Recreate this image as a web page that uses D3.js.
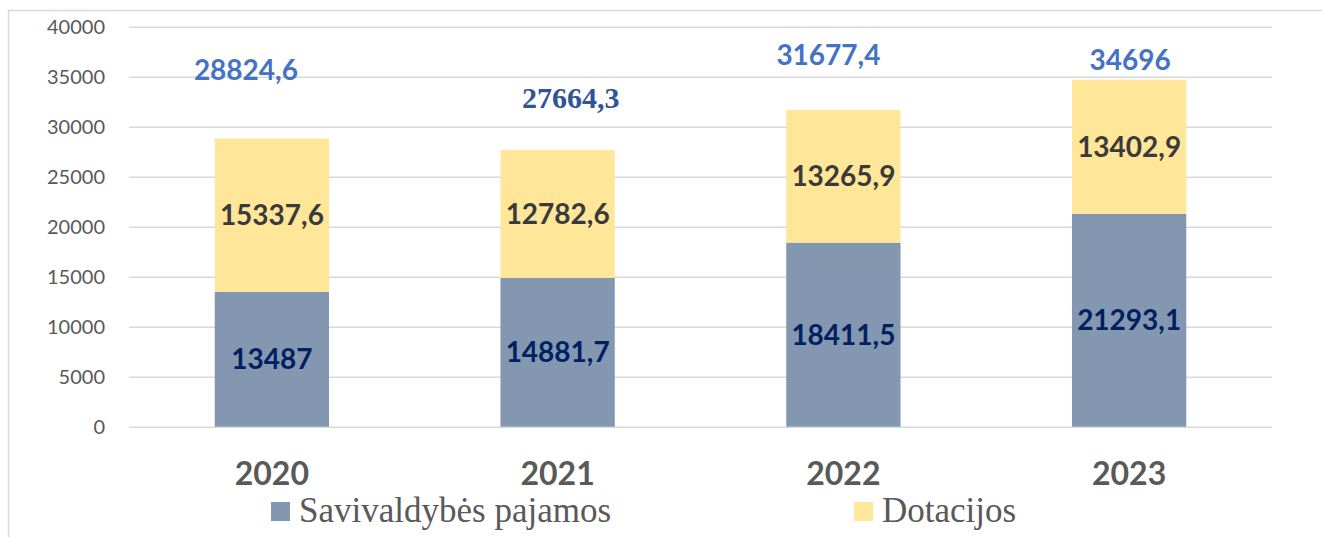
<!DOCTYPE html>
<html>
<head>
<meta charset="utf-8">
<script src="https://cdn.jsdelivr.net/npm/d3@7/dist/d3.min.js"></script>
<style>
body { margin:0; background:#fff; }
svg { display:block; }
.tick text { font-family: Lato, "Open Sans", sans-serif; }
.serif { font-family: "Liberation Serif", "DejaVu Serif", "Times New Roman", serif; }
</style>
</head>
<body>
<div id="chart"></div>
<script>
const years = ['2020', '2021', '2022', '2023'];
const savivaldybes = [13487, 14881.7, 18411.5, 21293.1];
const dotacijos = [15337.6, 12782.6, 13265.9, 13402.9];
const totals = [28824.6, 27664.3, 31677.4, 34696];
const yTicks = [0, 5000, 10000, 15000, 20000, 25000, 30000, 35000, 40000];
const seriesNames = ['Savivaldybės pajamos', 'Dotacijos'];

// hand placed total labels (as in the original), px offsets from bar top/center
const totalNudge = [{dx:-26, dy:-58}, {dx:13, dy:-42}, {dx:-15, dy:-45}, {dx:1, dy:-10}];

const width = 1322, height = 537;
const margin = {left:129, right:50, top:26.7, bottom:110.3};

const fmt = v => String(v).replace('.', ',');

const svg = d3.select('#chart').append('svg')
.attr('width', width)
.attr('height', height);

// outer frame (cut off at right / bottom like the source)
svg.append('rect')
.attr('x', 8.5).attr('y', 10.5)
.attr('width', 1400).attr('height', 600)
.attr('fill', 'none')
.attr('stroke', '#d9d9d9')
.attr('stroke-width', 1.5);

const x = d3.scaleBand()
.domain(years)
.range([margin.left, width - margin.right])
.paddingInner(0.6)
.paddingOuter(0.3);

const y = d3.scaleLinear()
.domain([0, 40000])
.range([height - margin.bottom, margin.top]);

// gridlines + tick labels
const yAxis = svg.append('g')
.attr('transform', `translate(${margin.left},0)`)
.call(d3.axisLeft(y).tickValues(yTicks).tickSize(-(width - margin.left - margin.right)).tickPadding(24).tickFormat(d => d));

yAxis.select('.domain').remove();
yAxis.selectAll('.tick line').attr('stroke', '#d9d9d9').attr('stroke-width', 1.5);
yAxis.selectAll('.tick text')
.attr('fill', '#595959')
.style('font-size', '20px');

const stacked = years.map((yr, i) => ({year:yr, a:savivaldybes[i], b:dotacijos[i], total:totals[i]}));

// bars
svg.selectAll('.bar-a')
.data(stacked)
.enter()
.append('rect')
.attr('class', 'bar-a')
.attr('x', d => x(d.year))
.attr('width', x.bandwidth())
.attr('y', d => y(d.a))
.attr('height', d => y(0) - y(d.a))
.attr('fill', '#8497b0');

svg.selectAll('.bar-b')
.data(stacked)
.enter()
.append('rect')
.attr('class', 'bar-b')
.attr('x', d => x(d.year))
.attr('width', x.bandwidth())
.attr('y', d => y(d.a + d.b))
.attr('height', d => y(d.a) - y(d.a + d.b))
.attr('fill', '#ffe699');

const cx = d => x(d.year) + x.bandwidth() / 2;

// segment labels
svg.selectAll('.lab-a')
.data(stacked)
.enter()
.append('text')
.attr('x', cx)
.attr('y', d => y(d.a / 2))
.attr('dy', '0.36em')
.attr('text-anchor', 'middle')
.style('font-family', 'Lato, sans-serif')
.style('font-weight', 'bold')
.style('font-size', '28px')
.attr('fill', '#002060')
.text(d => fmt(d.a));

svg.selectAll('.lab-b')
.data(stacked)
.enter()
.append('text')
.attr('x', cx)
.attr('y', d => y(d.a + d.b / 2))
.attr('dy', '0.36em')
.attr('text-anchor', 'middle')
.style('font-family', 'Lato, sans-serif')
.style('font-weight', 'bold')
.style('font-size', '28px')
.attr('fill', '#3a3a3a')
.text(d => fmt(d.b));

// totals
svg.selectAll('.lab-t')
.data(stacked)
.enter()
.append('text')
.attr('class', (d, i) => i == 1 ? 'serif' : null)
.attr('x', (d, i) => cx(d) + totalNudge[i].dx)
.attr('y', (d, i) => y(d.total) + totalNudge[i].dy)
.attr('text-anchor', 'middle')
.style('font-family', (d, i) => i == 1 ? null : 'Lato, sans-serif')
.style('font-weight', 'bold')
.style('font-size', (d, i) => i == 1 ? '30px' : '28px')
.attr('fill', (d, i) => i == 1 ? '#2f5597' : '#4472c4')
.text(d => fmt(d.total));

// year labels
svg.selectAll('.year')
.data(years)
.enter()
.append('text')
.attr('x', d => x(d) + x.bandwidth() / 2)
.attr('y', 485)
.attr('text-anchor', 'middle')
.style('font-family', 'Lato, sans-serif')
.style('font-weight', 'bold')
.style('font-size', '32px')
.attr('fill', '#595959')
.text(d => d);

// legend
const legendX = [271, 854];
const legendColors = ['#8497b0', '#ffe699'];

const legend = svg.selectAll('.legend')
.data(seriesNames)
.enter()
.append('g')
.attr('transform', (d, i) => `translate(${legendX[i]},0)`);

legend.append('rect')
.attr('x', 0).attr('y', 502)
.attr('width', 19).attr('height', 19)
.attr('fill', (d, i) => legendColors[i]);

legend.append('text')
.attr('class', 'serif')
.attr('x', 28)
.attr('y', 522)
.style('font-size', '35px')
.attr('fill', '#595959')
.text(d => d);
</script>
</body>
</html>
